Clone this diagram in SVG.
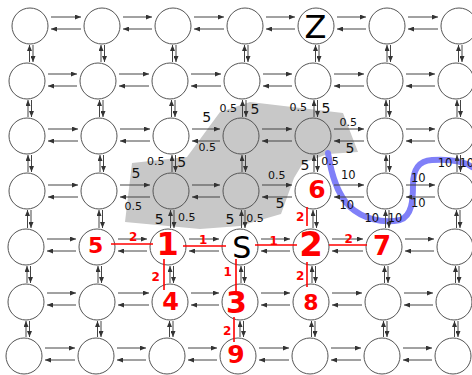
<svg xmlns="http://www.w3.org/2000/svg" width="472" height="375" viewBox="0 0 472 375">
  <style>
    .nd { fill: #fff; stroke: #555; stroke-width: 1; }
    .nd.g { fill: #c8c8c8; }
    .a { stroke: #444; stroke-width: 1; fill: none; marker-end: url(#ah); }
    .w { font-family: "DejaVu Sans", sans-serif; fill: #111; text-anchor: middle; }
    .w5 { font-size: 14px; }
    .w05 { font-size: 11px; }
    .w10 { font-size: 11.5px; }
    .r { font-family: "DejaVu Sans", sans-serif; fill: #f00; text-anchor: middle; font-weight: bold; }
    .rs { font-size: 12px; }
    .p { stroke: #f00; stroke-width: 1.6; fill: none; }
    .lb { font-family: "DejaVu Sans", sans-serif; fill: #000; text-anchor: middle; }
  </style>
  <defs>
    <marker id="ah" viewBox="0 0 6 5" refX="6" refY="2.5" markerWidth="6" markerHeight="5" markerUnits="userSpaceOnUse" orient="auto">
      <path d="M0,0L6,2.5L0,5z" fill="#333"/>
    </marker>
  </defs>

  <rect width="472" height="375" fill="#fff"/>

  <!-- shaded region of cheap edges -->
  <polygon id="region" fill="#c8c8c8" points="125,222 132,163 187,157 220,112 250,102 343,113 358,152 328,154 303,163 294,178 281,214 240,226 200,229"/>

  <!-- barrier curve -->
  <path id="barrier" d="M328,153 C331,172 336,193 350,207 C362,218 382,224 400,220 C412,216 413,200 413,185 C413,170 418,161 432,160 C448,159 462,160 472,167" fill="none" stroke="#8080f8" stroke-width="6" stroke-linecap="round"/>

  <g id="connectors">
    <!-- row 0 -->
    <path class="a" d="M51,17H81"/><path class="a" d="M81,29H51"/>
    <path class="a" d="M123,17H152"/><path class="a" d="M152,29H123"/>
    <path class="a" d="M194,17H224"/><path class="a" d="M224,29H194"/>
    <path class="a" d="M266,17H295"/><path class="a" d="M295,29H266"/>
    <path class="a" d="M337,17H366"/><path class="a" d="M366,29H337"/>
    <path class="a" d="M408,17H438"/><path class="a" d="M438,29H408"/>
    <!-- row 1 -->
    <path class="a" d="M48,74H77"/><path class="a" d="M77,86H48"/>
    <path class="a" d="M119,74H149"/><path class="a" d="M149,86H119"/>
    <path class="a" d="M191,74H221"/><path class="a" d="M221,86H191"/>
    <path class="a" d="M263,74H292"/><path class="a" d="M292,86H263"/>
    <path class="a" d="M334,74H364"/><path class="a" d="M364,86H334"/>
    <path class="a" d="M406,74H435"/><path class="a" d="M435,86H406"/>
    <!-- row 2 -->
    <path class="a" d="M48,129H78"/><path class="a" d="M78,141H48"/>
    <path class="a" d="M120,129H150"/><path class="a" d="M150,141H120"/>
    <path class="a" d="M192,129H220"/><path class="a" d="M220,141H192"/>
    <path class="a" d="M262,129H292"/><path class="a" d="M292,141H262"/>
    <path class="a" d="M334,129H364"/><path class="a" d="M364,141H334"/>
    <path class="a" d="M406,129H435"/><path class="a" d="M435,141H406"/>
    <!-- row 3 -->
    <path class="a" d="M48,185H78"/><path class="a" d="M78,197H48"/>
    <path class="a" d="M120,185H150"/><path class="a" d="M150,197H120"/>
    <path class="a" d="M192,185H220"/><path class="a" d="M220,197H192"/>
    <path class="a" d="M262,185H292"/><path class="a" d="M292,197H262"/>
    <path class="a" d="M334,185H364"/><path class="a" d="M364,197H334"/>
    <path class="a" d="M406,185H435"/><path class="a" d="M435,197H406"/>
    <!-- row 4 -->
    <path class="a" d="M47,239H76"/><path class="a" d="M76,251H47"/>
    <path class="a" d="M118,239H147"/><path class="a" d="M147,251H118"/>
    <path class="a" d="M189,239H219"/><path class="a" d="M219,251H189"/>
    <path class="a" d="M261,239H290"/><path class="a" d="M290,251H261"/>
    <path class="a" d="M332,239H363"/><path class="a" d="M363,251H332"/>
    <path class="a" d="M405,239H434"/><path class="a" d="M434,251H405"/>
    <!-- row 5 -->
    <path class="a" d="M47,293H76"/><path class="a" d="M76,305H47"/>
    <path class="a" d="M118,293H149"/><path class="a" d="M149,305H118"/>
    <path class="a" d="M191,293H219"/><path class="a" d="M219,305H191"/>
    <path class="a" d="M261,293H290"/><path class="a" d="M290,305H261"/>
    <path class="a" d="M332,293H362"/><path class="a" d="M362,305H332"/>
    <path class="a" d="M404,293H433"/><path class="a" d="M433,305H404"/>
    <!-- row 6 -->
    <path class="a" d="M45,348H75"/><path class="a" d="M75,360H45"/>
    <path class="a" d="M117,348H146"/><path class="a" d="M146,360H117"/>
    <path class="a" d="M188,348H217"/><path class="a" d="M217,360H188"/>
    <path class="a" d="M259,348H289"/><path class="a" d="M289,360H259"/>
    <path class="a" d="M331,348H361"/><path class="a" d="M361,360H331"/>
    <path class="a" d="M403,348H432"/><path class="a" d="M432,360H403"/>

    <!-- vertical, rows 0-1 -->
    <path class="a" d="M29.5,62V45"/><path class="a" d="M33,45V62"/>
    <path class="a" d="M101,62V45"/><path class="a" d="M104.5,45V62"/>
    <path class="a" d="M172.5,62V45"/><path class="a" d="M176,45V62"/>
    <path class="a" d="M244.5,62V45"/><path class="a" d="M248,45V62"/>
    <path class="a" d="M315.5,62V45"/><path class="a" d="M319,45V62"/>
    <path class="a" d="M387,62V45"/><path class="a" d="M390.5,45V62"/>
    <path class="a" d="M458.5,62V45"/><path class="a" d="M462,45V62"/>
    <!-- rows 1-2 -->
    <path class="a" d="M28,117V100"/><path class="a" d="M31.5,100V117"/>
    <path class="a" d="M99.5,117V100"/><path class="a" d="M103,100V117"/>
    <path class="a" d="M171.5,117V100"/><path class="a" d="M175,100V117"/>
    <path class="a" d="M242.5,117V100"/><path class="a" d="M246,100V117"/>
    <path class="a" d="M314,117V100"/><path class="a" d="M317.5,100V117"/>
    <path class="a" d="M386,117V100"/><path class="a" d="M389.5,100V117"/>
    <path class="a" d="M457,117V100"/><path class="a" d="M460.5,100V117"/>
    <!-- rows 2-3 -->
    <path class="a" d="M28,172V155"/><path class="a" d="M31.5,155V172"/>
    <path class="a" d="M100,172V155"/><path class="a" d="M103.5,155V172"/>
    <path class="a" d="M172,172V155"/><path class="a" d="M175.5,155V172"/>
    <path class="a" d="M242,172V155"/><path class="a" d="M245.5,155V172"/>
    <path class="a" d="M314,172V155"/><path class="a" d="M317.5,155V172"/>
    <path class="a" d="M386,172V155"/><path class="a" d="M389.5,155V172"/>
    <path class="a" d="M457,172V155"/><path class="a" d="M460.5,155V172"/>
    <!-- rows 3-4 -->
    <path class="a" d="M27.5,228V210"/><path class="a" d="M31,210V228"/>
    <path class="a" d="M99,228V210"/><path class="a" d="M102.5,210V228"/>
    <path class="a" d="M170.5,228V210"/><path class="a" d="M174,210V228"/>
    <path class="a" d="M241.5,228V210"/><path class="a" d="M245,210V228"/>
    <path class="a" d="M313,228V210"/><path class="a" d="M316.5,210V228"/>
    <path class="a" d="M385.5,228V210"/><path class="a" d="M389,210V228"/>
    <path class="a" d="M456.5,228V210"/><path class="a" d="M460,210V228"/>
    <!-- rows 4-5 -->
    <path class="a" d="M27,283V266"/><path class="a" d="M30.5,266V283"/>
    <path class="a" d="M98,283V266"/><path class="a" d="M101.5,266V283"/>
    <path class="a" d="M170,283V266"/><path class="a" d="M173.5,266V283"/>
    <path class="a" d="M241,283V266"/><path class="a" d="M244.5,266V283"/>
    <path class="a" d="M312,283V266"/><path class="a" d="M315.5,266V283"/>
    <path class="a" d="M384.5,283V266"/><path class="a" d="M388,266V283"/>
    <path class="a" d="M455.5,283V266"/><path class="a" d="M459,266V283"/>
    <!-- rows 5-6 -->
    <path class="a" d="M26,337V321"/><path class="a" d="M29.5,321V337"/>
    <path class="a" d="M97.5,337V321"/><path class="a" d="M101,321V337"/>
    <path class="a" d="M169.5,337V321"/><path class="a" d="M173,321V337"/>
    <path class="a" d="M240,337V321"/><path class="a" d="M243.5,321V337"/>
    <path class="a" d="M311.5,337V321"/><path class="a" d="M315,321V337"/>
    <path class="a" d="M383.5,337V321"/><path class="a" d="M387,321V337"/>
    <path class="a" d="M454.5,337V321"/><path class="a" d="M458,321V337"/>
  </g>

  <!-- nodes -->
  <g id="r0c0"><circle class="nd" cx="30" cy="26" r="18"/></g>
  <g id="r0c1"><circle class="nd" cx="102" cy="26" r="18"/></g>
  <g id="r0c2"><circle class="nd" cx="173" cy="26" r="18"/></g>
  <g id="r0c3"><circle class="nd" cx="245" cy="26" r="18"/></g>
  <g id="Z"><circle class="nd" cx="316" cy="26" r="18"/><text class="lb" x="315.5" y="37.7" font-size="32">Z</text></g>
  <g id="r0c5"><circle class="nd" cx="387" cy="26" r="18"/></g>
  <g id="r0c6"><circle class="nd" cx="459" cy="26" r="18"/></g>

  <g id="r1c0"><circle class="nd" cx="27" cy="81" r="18"/></g>
  <g id="r1c1"><circle class="nd" cx="98" cy="81" r="18"/></g>
  <g id="r1c2"><circle class="nd" cx="170" cy="81" r="18"/></g>
  <g id="r1c3"><circle class="nd" cx="242" cy="81" r="18"/></g>
  <g id="r1c4"><circle class="nd" cx="313" cy="81" r="18"/></g>
  <g id="r1c5"><circle class="nd" cx="385" cy="81" r="18"/></g>
  <g id="r1c6"><circle class="nd" cx="456" cy="81" r="18"/></g>

  <g id="r2c0"><circle class="nd" cx="27" cy="136" r="18"/></g>
  <g id="r2c1"><circle class="nd" cx="99" cy="136" r="18"/></g>
  <g id="r2c2"><circle class="nd" cx="171" cy="136" r="18"/></g>
  <g id="r2c3"><circle class="nd g" cx="241" cy="136" r="18"/></g>
  <g id="r2c4"><circle class="nd g" cx="313" cy="136" r="18"/></g>
  <g id="r2c5"><circle class="nd" cx="385" cy="136" r="18"/></g>
  <g id="r2c6"><circle class="nd" cx="456" cy="136" r="18"/></g>

  <g id="r3c0"><circle class="nd" cx="27" cy="191" r="18"/></g>
  <g id="r3c1"><circle class="nd" cx="99" cy="191" r="18"/></g>
  <g id="r3c2"><circle class="nd g" cx="171" cy="191" r="18"/></g>
  <g id="r3c3"><circle class="nd g" cx="241" cy="191" r="18"/></g>
  <g id="n6"><circle class="nd" cx="313" cy="191" r="18"/><text class="r" x="317" y="198.4" font-size="25">6</text></g>
  <g id="r3c5"><circle class="nd" cx="385" cy="191" r="18"/></g>
  <g id="r3c6"><circle class="nd" cx="456" cy="191" r="18"/></g>

  <g id="r4c0"><circle class="nd" cx="26" cy="247" r="18"/></g>
  <g id="n5"><circle class="nd" cx="97" cy="247" r="18"/><text class="r" x="95.7" y="253" font-size="22">5</text></g>
  <g id="n1"><circle class="nd" cx="168" cy="247" r="18"/><text class="r" x="167.7" y="255" font-size="32">1</text></g>
  <g id="S"><circle class="nd" cx="240" cy="247" r="18"/><text class="lb" x="241.7" y="257.6" font-size="30">S</text></g>
  <g id="n2"><circle class="nd" cx="311" cy="247" r="18"/><text class="r" x="311" y="255.7" font-size="34">2</text></g>
  <g id="n7"><circle class="nd" cx="384" cy="247" r="18"/><text class="r" x="382" y="254.5" font-size="26">7</text></g>
  <g id="r4c6"><circle class="nd" cx="455" cy="247" r="18"/></g>

  <g id="r5c0"><circle class="nd" cx="26" cy="302" r="18"/></g>
  <g id="r5c1"><circle class="nd" cx="97" cy="302" r="18"/></g>
  <g id="n4"><circle class="nd" cx="170" cy="302" r="18"/><text class="r" x="170.7" y="310.4" font-size="24">4</text></g>
  <g id="n3"><circle class="nd" cx="240" cy="302" r="18"/><text class="r" x="236.5" y="312.6" font-size="30">3</text></g>
  <g id="n8"><circle class="nd" cx="311" cy="302" r="18"/><text class="r" x="311" y="309.7" font-size="22">8</text></g>
  <g id="r5c5"><circle class="nd" cx="383" cy="302" r="18"/></g>
  <g id="r5c6"><circle class="nd" cx="454" cy="302" r="18"/></g>

  <g id="r6c0"><circle class="nd" cx="24" cy="356" r="18"/></g>
  <g id="r6c1"><circle class="nd" cx="96" cy="356" r="18"/></g>
  <g id="r6c2"><circle class="nd" cx="167" cy="356" r="18"/></g>
  <g id="n9"><circle class="nd" cx="238" cy="356" r="18"/><text class="r" x="236" y="363" font-size="25">9</text></g>
  <g id="r6c4"><circle class="nd" cx="310" cy="356" r="18"/></g>
  <g id="r6c5"><circle class="nd" cx="382" cy="356" r="18"/></g>
  <g id="r6c6"><circle class="nd" cx="453" cy="356" r="18"/></g>

  <!-- search tree edges -->
  <g id="tree">
    <path class="p" d="M111,244H153"/>
    <path class="p" d="M183,246H226"/>
    <path class="p" d="M255,245H297"/>
    <path class="p" d="M329,245H367"/>
    <path class="p" d="M164,259V290"/>
    <path class="p" d="M236,259V292"/>
    <path class="p" d="M234,317V342"/>
    <path class="p" d="M307,262V287"/>
    <path class="p" d="M307,207V226"/>
    <text class="r rs" x="133.3" y="241">2</text>
    <text class="r rs" x="203.3" y="243.5">1</text>
    <text class="r rs" x="273.7" y="244.5">1</text>
    <text class="r rs" x="348.7" y="243">2</text>
    <text class="r rs" x="155.7" y="281">2</text>
    <text class="r rs" x="227.7" y="276">1</text>
    <text class="r rs" x="227.3" y="334.5">2</text>
    <text class="r rs" x="300.3" y="279.5">2</text>
    <text class="r rs" x="300.3" y="220.5">2</text>
  </g>

  <!-- edge weights -->
  <g id="weights">
    <text class="w w5" x="206.7" y="121.7">5</text>
    <text class="w w05" x="207.3" y="151">0.5</text>
    <text class="w w05" x="228.3" y="112">0.5</text>
    <text class="w w5" x="255" y="114">5</text>
    <text class="w w05" x="298.3" y="110.5">0.5</text>
    <text class="w w5" x="326" y="113">5</text>
    <text class="w w05" x="348.3" y="125.5">0.5</text>
    <text class="w w5" x="350" y="153">5</text>
    <text class="w w5" x="305" y="170">5</text>
    <text class="w w05" x="330" y="165">0.5</text>
    <text class="w w05" x="276.7" y="179">0.5</text>
    <text class="w w5" x="280" y="208">5</text>
    <text class="w w05" x="255" y="221.5">0.5</text>
    <text class="w w5" x="230" y="224">5</text>
    <text class="w w05" x="155.7" y="164.5">0.5</text>
    <text class="w w5" x="181.7" y="166.5">5</text>
    <text class="w w5" x="136" y="178">5</text>
    <text class="w w05" x="133.3" y="210">0.5</text>
    <text class="w w5" x="159.3" y="224">5</text>
    <text class="w w05" x="186.7" y="221">0.5</text>

    <text class="w w10" x="348.3" y="179">10</text>
    <text class="w w10" x="346.7" y="209">10</text>
    <text class="w w10" x="371.7" y="222">10</text>
    <text class="w w10" x="395" y="222">10</text>
    <text class="w w10" x="418.3" y="182">10</text>
    <text class="w w10" x="418.3" y="207">10</text>
    <text class="w w10" x="445" y="167">10</text>
    <text class="w w10" x="466.7" y="167">10</text>
  </g>
</svg>
